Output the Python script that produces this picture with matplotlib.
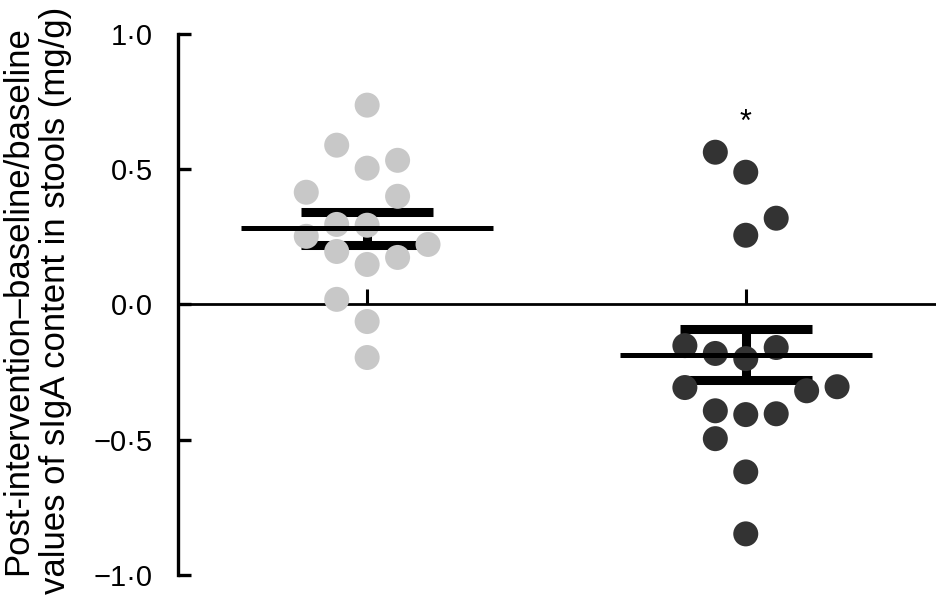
import numpy as np
import matplotlib.pyplot as plt

plt.rcParams['font.family'] = ['Liberation Sans', 'DejaVu Sans']

# Werte (mg/g, relative Aenderung)
group1_values = [0.737, 0.589, 0.504, 0.533, 0.415, 0.400, 0.296, 0.293,
                 0.252, 0.222, 0.196, 0.148, 0.174, 0.019, -0.063, -0.196]
group2_values = [0.563, 0.489, 0.319, 0.256, -0.152, -0.181, -0.200, -0.159,
                 -0.307, -0.319, -0.304, -0.393, -0.407, -0.404, -0.496,
                 -0.619, -0.848]
group_means = [0.281, -0.186]
group_sems = [0.060, 0.094]

# Spalten der Punktwolke (Schwarm-Anordnung)
group1_slots = [0, -1, 0, 1, -2, 1, -1, 0, -2, 2, -1, 0, 1, -1, 0, 0]
group2_slots = [-1, 0, 1, 0, -2, -1, 0, 1, -2, 2, 3, -1, 0, 1, -1, 0, 0]

colors = ['#c8c8c8', '#333333']
yticks = [1.0, 0.5, 0.0, -0.5, -1.0]
ytick_labels = ['1·0', '0·5', '0·0', '−0·5', '−1·0']

fig = plt.figure(figsize=(9.36, 6.05), dpi=100)
ax = fig.add_axes([0.190, 0.0496, 0.809, 0.8942])

step = 0.0804
for i, (vals, slots) in enumerate([(group1_values, group1_slots),
                                    (group2_values, group2_slots)]):
    xc = i + 1
    xs = xc + np.array(slots) * step
    m = group_means[i]
    s = group_sems[i]
    # SEM
    ax.plot([xc - 0.175, xc + 0.175], [m + s, m + s], color='black', lw=6.5,
            solid_capstyle='butt', zorder=2)
    ax.plot([xc - 0.175, xc + 0.175], [m - s, m - s], color='black', lw=6.5,
            solid_capstyle='butt', zorder=2)
    ax.plot([xc, xc], [m - s, m + s], color='black', lw=6.5,
            solid_capstyle='butt', zorder=2)
    ax.scatter(xs, vals, s=18 ** 2, color=colors[i], edgecolors='none',
               zorder=3)
    # Mittelwert
    ax.plot([xc - 0.333, xc + 0.333], [m, m], color='black', lw=3.6,
            solid_capstyle='butt', zorder=4)

ax.text(2, 0.67, '*', ha='center', va='center', fontsize=22)

ax.set_xlim(0.5, 2.5)
ax.set_ylim(-1.0, 1.0)

ax.spines['top'].set_visible(False)
ax.spines['right'].set_visible(False)
ax.spines['bottom'].set_position(('data', 0))
ax.spines['left'].set_linewidth(2.4)
ax.spines['bottom'].set_linewidth(2.0)

ax.set_xticks([1, 2])
ax.set_xticklabels([])
ax.tick_params(axis='x', direction='in', length=11, width=2.2)
ax.set_yticks(yticks)
ax.set_yticklabels(ytick_labels)
ax.tick_params(axis='y', direction='in', length=9, width=2.4, pad=18,
               labelsize=21)

fig.text(0.039, 0.504,
         'Post-intervention–baseline/baseline\nvalues of sIgA content in stools (mg/g)',
         rotation=90, ha='center', va='center', fontsize=25,
         multialignment='center', linespacing=1.22)

fig.savefig('out.png', dpi=100)
